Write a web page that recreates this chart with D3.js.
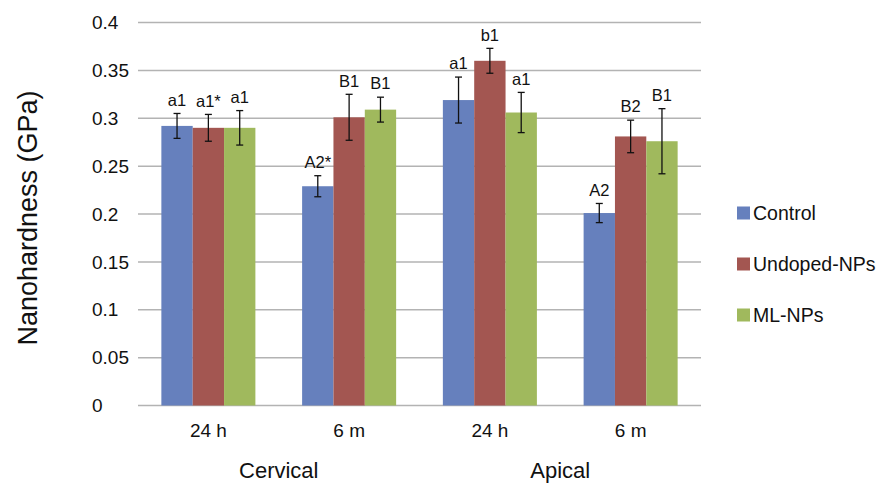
<!DOCTYPE html>
<html>
<head>
<meta charset="utf-8">
<script src="https://cdn.jsdelivr.net/npm/d3@7"></script>
<style>
  body { margin: 0; background: #fff; }
  text { font-family: "Liberation Sans", Arial, sans-serif; fill: #111; }
</style>
</head>
<body>
<div id="chart"></div>
<script>
// Data
const timepoints = ['24 h', '6 m', '24 h', '6 m'];
const regions = ['Cervical', 'Apical'];
const seriesNames = ['Control', 'Undoped-NPs', 'ML-NPs'];
const seriesColors = ['#6680bd', '#a35651', '#a0b95d'];

const controlValues = [0.292, 0.229, 0.319, 0.201];
const undopedValues = [0.290, 0.301, 0.360, 0.281];
const mlValues = [0.290, 0.309, 0.306, 0.276];

const controlErrors = [0.013, 0.011, 0.024, 0.010];
const undopedErrors = [0.014, 0.024, 0.013, 0.017];
const mlErrors = [0.018, 0.013, 0.021, 0.034];

const controlLabels = ['a1', 'A2*', 'a1', 'A2'];
const undopedLabels = ['a1*', 'B1', 'b1', 'B2'];
const mlLabels = ['a1', 'B1', 'a1', 'B1'];

const yTicks = [0, 0.05, 0.1, 0.15, 0.2, 0.25, 0.3, 0.35, 0.4];

const allValues = [controlValues, undopedValues, mlValues];
const allErrors = [controlErrors, undopedErrors, mlErrors];
const allLabels = [controlLabels, undopedLabels, mlLabels];

// Dimensions
const width = 877, height = 483;
const plot = {left: 138, right: 701, top: 22.5, bottom: 405.5};

const svg = d3.select('#chart')
    .append('svg')
    .attr('width', width)
    .attr('height', height);

// Scales
const xScale = d3.scaleBand()
    .domain(d3.range(timepoints.length))
    .range([plot.left, plot.right])
    .paddingInner(0.332)
    .paddingOuter(0.166);

const xInner = d3.scaleBand()
    .domain(d3.range(seriesNames.length))
    .range([0, xScale.bandwidth()]);

const yScale = d3.scaleLinear()
    .domain([0, 0.4])
    .range([plot.bottom, plot.top]);

// Gridlines
svg.append('g')
    .selectAll('line')
    .data(yTicks)
    .enter()
    .append('line')
    .attr('x1', plot.left)
    .attr('x2', plot.right)
    .attr('y1', d => yScale(d))
    .attr('y2', d => yScale(d))
    .attr('stroke', '#b3b3b3')
    .attr('stroke-width', 1.5);

// Y tick labels (left aligned like the original)
svg.append('g')
    .selectAll('text')
    .data(yTicks)
    .enter()
    .append('text')
    .attr('x', 92)
    .attr('y', d => yScale(d))
    .attr('dy', '0.35em')
    .style('font-size', '19px')
    .text(d => d === 0 ? '0' : d3.format('')(+d.toFixed(2)));

// Flatten bars
const bars = [];
allValues.forEach((vals, s) => {
    vals.forEach((v, i) => {
        bars.push({s: s, i: i, value: v, err: allErrors[s][i], label: allLabels[s][i]});
    });
});

const barX = d => xScale(d.i) + xInner(d.s);

svg.append('g')
    .selectAll('rect')
    .data(bars)
    .enter()
    .append('rect')
    .attr('x', barX)
    .attr('width', xInner.bandwidth())
    .attr('y', d => yScale(d.value))
    .attr('height', d => yScale(0) - yScale(d.value))
    .attr('fill', d => seriesColors[d.s]);

// Error bars
const errG = svg.append('g')
    .attr('stroke', '#111')
    .attr('stroke-width', 1.3);

bars.forEach(d => {
    const cx = barX(d) + xInner.bandwidth() / 2;
    const y1 = yScale(d.value + d.err), y2 = yScale(d.value - d.err);
    errG.append('line').attr('x1', cx).attr('x2', cx).attr('y1', y1).attr('y2', y2);
    errG.append('line').attr('x1', cx - 3.5).attr('x2', cx + 3.5).attr('y1', y1).attr('y2', y1);
    errG.append('line').attr('x1', cx - 3.5).attr('x2', cx + 3.5).attr('y1', y2).attr('y2', y2);
});

// Significance labels
svg.append('g')
    .selectAll('text')
    .data(bars)
    .enter()
    .append('text')
    .attr('x', d => barX(d) + xInner.bandwidth() / 2)
    .attr('y', d => yScale(d.value + d.err) - 13.5)
    .attr('dy', '0.35em')
    .attr('text-anchor', 'middle')
    .style('font-size', '16.5px')
    .text(d => d.label);

// X tick labels
svg.append('g')
    .selectAll('text')
    .data(timepoints)
    .enter()
    .append('text')
    .attr('x', (d, i) => xScale(i) + xScale.bandwidth() / 2)
    .attr('y', 437)
    .attr('text-anchor', 'middle')
    .style('font-size', '19px')
    .text(d => d);

// Region labels
svg.append('g')
    .selectAll('text')
    .data(regions)
    .enter()
    .append('text')
    .attr('x', (d, i) => (xScale(i * 2) + xScale(i * 2 + 1) + xScale.bandwidth()) / 2)
    .attr('y', 478)
    .attr('text-anchor', 'middle')
    .style('font-size', '22px')
    .text(d => d);

// Y axis title
svg.append('text')
    .attr('transform', 'translate(37, 218) rotate(-90)')
    .attr('text-anchor', 'middle')
    .style('font-size', '27px')
    .text('Nanohardness (GPa)');

// Legend
const legend = svg.append('g')
    .selectAll('g')
    .data(seriesNames)
    .enter()
    .append('g')
    .attr('transform', (d, i) => `translate(737, ${213 + i * 51})`);

legend.append('rect')
    .attr('x', 0)
    .attr('y', -6.5)
    .attr('width', 13)
    .attr('height', 13)
    .attr('fill', (d, i) => seriesColors[i]);

legend.append('text')
    .attr('x', 16)
    .attr('y', 0)
    .attr('dy', '0.35em')
    .style('font-size', '19.5px')
    .text(d => d);
</script>
</body>
</html>
